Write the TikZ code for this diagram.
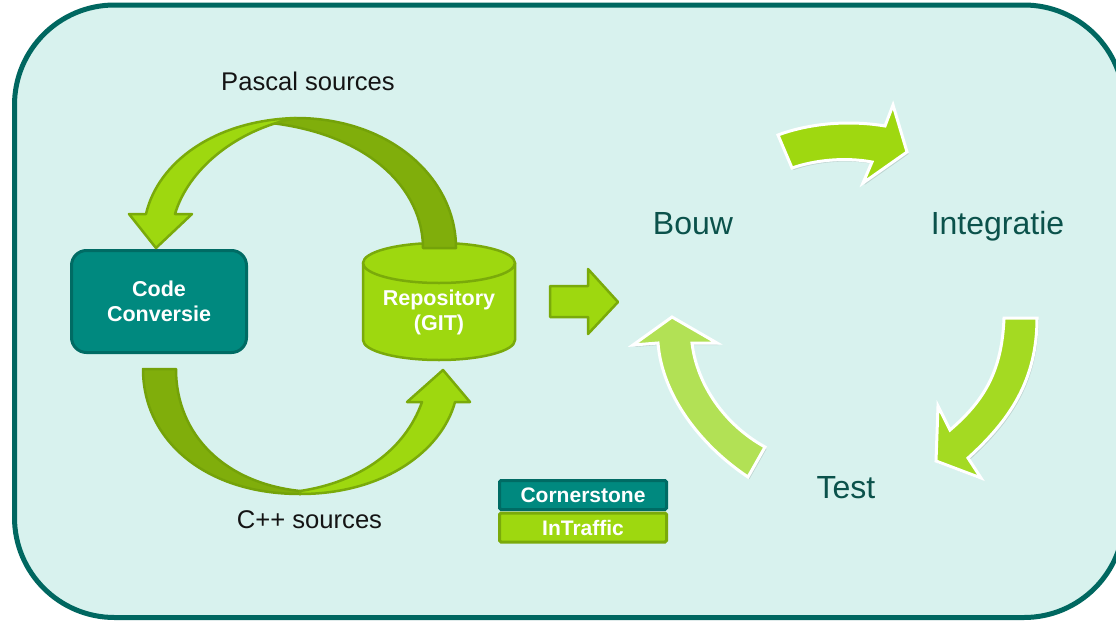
\documentclass[tikz,border=0pt]{standalone}
\usepackage{fontspec}
\setmainfont{Liberation Sans}
\definecolor{bgfill}{HTML}{D8F2EE}
\definecolor{bgline}{HTML}{006760}
\definecolor{teal1}{HTML}{00897F}
\definecolor{teal2}{HTML}{006B64}
\definecolor{lime}{HTML}{9ED80F}
\definecolor{limeline}{HTML}{7AAA0A}
\definecolor{limedark}{HTML}{80AE0B}
\definecolor{darkline}{HTML}{74A209}
\definecolor{labelc}{HTML}{141414}
\definecolor{cyctext}{HTML}{0B524B}
\definecolor{cycA}{HTML}{9FD810}
\definecolor{cycB}{HTML}{A4DA22}
\definecolor{cycC}{HTML}{B2E155}
\tikzset{
  lbl/.style={font=\fontsize{25.6}{30}\selectfont, text=labelc, inner sep=0pt, anchor=base},
  cyc/.style={font=\fontsize{32}{38}\selectfont, text=cyctext, inner sep=0pt, anchor=base},
  wtext/.style={font=\bfseries\fontsize{21.5}{25}\selectfont, text=white, align=center, inner sep=0pt},
  codebox/.style={wtext, fill=teal1, draw=teal2, line width=3pt, rounded corners=15pt,
    minimum width=175pt, minimum height=102pt},
  limebox/.style={fill=lime, draw=limeline, line width=2.5pt, line join=round},
  darkarrow/.style={fill=limedark, draw=darkline, line width=2.5pt, line join=round},
  cycarrow/.style={draw=white, line width=3pt, line join=miter,
    preaction={fill=black, opacity=0.12, transform canvas={shift={(1.5pt,-2pt)}}}},
  logoA/.style={wtext, font=\bfseries\fontsize{21}{24}\selectfont, fill=teal1, draw=teal2,
    line width=3pt, rounded corners=1.5pt, minimum width=167pt, minimum height=29pt},
  logoB/.style={logoA, fill=lime, draw=limeline}
}
\begin{document}
\begin{tikzpicture}[x=1pt,y=-1pt]
\useasboundingbox (0,0) rectangle (1116,621);
\clip (0,0) rectangle (1116,621);
\fill[white] (0,0) rectangle (1116,621);
% frame
\draw[fill=bgfill, draw=bgline, line width=5pt, rounded corners=100pt] (14.5,5) rectangle (1124,617.5);

% nodes
\node[codebox] (cc) at (159,301.5) {Code\\Conversie};
\path[limebox] (363,263) -- (363,340) .. controls (363,351) and (397,360) .. (439,360)
  .. controls (481,360) and (515,351) .. (515,340) -- (515,263) -- cycle;
\path[limebox] (363,263) .. controls (363,252) and (397,243) .. (439,243)
  .. controls (481,243) and (515,252) .. (515,263) .. controls (515,274) and (481,283) .. (439,283)
  .. controls (397,283) and (363,274) .. (363,263) -- cycle;
\node[wtext] (repo) at (439,312) {Repository\\(GIT)};

% labels
\node[lbl] (pascal) at (308,90) {Pascal sources};
\node[lbl] (cpp) at (309.5,528) {C++ sources};

% top curved arrow (repo -> code conversie)
\path[darkarrow] (296,118) .. controls (390,118) and (456,178) .. (456,248) -- (423,248)
  .. controls (423,190) and (370,132) .. (262,122) -- cycle;
\path[limebox] (296,118) .. controls (215,120) and (158,162) .. (146,214) -- (129,214) -- (156,248)
  -- (192,214) -- (175,214) .. controls (188,170) and (235,130) .. (296,118) -- cycle;

% bottom curved arrow (code conversie -> repo)
\path[darkarrow] (143,369) -- (176,369) .. controls (176,435) and (225,483) .. (300,491)
  -- (300,494) .. controls (205,494) and (143,440) .. (143,369) -- cycle;
\path[limebox] (300,494) .. controls (385,494) and (442,450) .. (455,402) -- (470,402) -- (443,370)
  -- (407,402) -- (422,402) .. controls (405,450) and (360,482) .. (300,491) -- cycle;

% straight arrow
\path[limebox] (550,286) -- (588,286) -- (588,269) -- (618,302) -- (588,334) -- (588,317) -- (550,317) -- cycle;

% logos
\node[logoA] (corner) at (583,495) {Cornerstone};
\node[logoB] (intraffic) at (583,527.5) {InTraffic};

% cycle labels
\node[cyc] (bouw) at (693,234) {Bouw};
\node[cyc] (integ) at (997.5,234) {Integratie};
\node[cyc] (test) at (846,498) {Test};

% cycle arrows
\path[cycarrow, fill=cycA] (778,135) .. controls (810,123) and (850,120) .. (885,126) -- (893,105)
  -- (907,152) -- (863,183) -- (872,162) .. controls (845,157) and (815,160) .. (792,168) -- cycle;
\path[cycarrow, fill=cycB] (1037,318) .. controls (1037,380) and (1010,420) .. (968,458) -- (981,478)
  -- (936,461) -- (938,406) -- (950,430) .. controls (985,400) and (1002,370) .. (1004,318) -- cycle;
\path[cycarrow, fill=cycC] (748,477) .. controls (700,445) and (662,395) .. (658,343) -- (633,345)
  -- (672,317) -- (717,343) -- (692,343) .. controls (697,385) and (725,425) .. (765,447) -- cycle;
\end{tikzpicture}
\end{document}
